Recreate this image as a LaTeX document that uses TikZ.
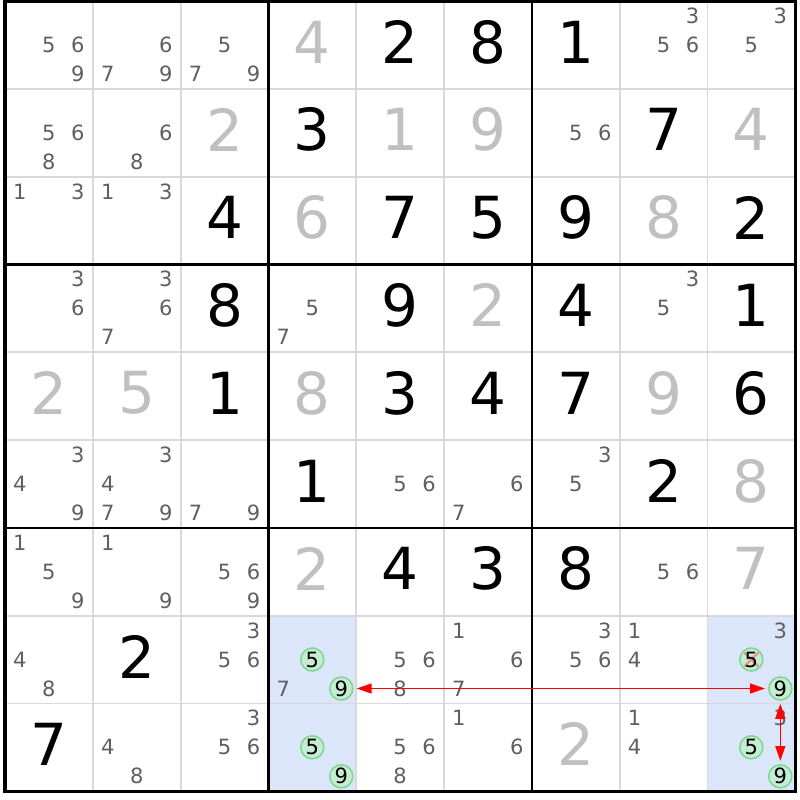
\documentclass[tikz,border=0pt]{standalone}
\usepackage{fontspec}
\setmainfont{DejaVu Sans}
\usetikzlibrary{arrows.meta}
\definecolor{candc}{HTML}{5F5F5F}
\definecolor{givc}{HTML}{C0C0C0}
\definecolor{thinc}{HTML}{D9D9D9}
\definecolor{hil}{HTML}{DCE6FB}
\definecolor{cirb}{HTML}{80D890}
\definecolor{cirf}{HTML}{C4EDD4}
\definecolor{xred}{HTML}{F08A8A}
\definecolor{arrc}{HTML}{FF0000}
\newcommand\cx[1]{(5+(#1-1)*87.8)}
\newcommand\cands[3]{%
  \foreach \cd in {#3}{%
    \pgfmathsetmacro\xx{5+(#2-1)*87.8+14.9+29*mod(\cd-1,3)}%
    \pgfmathsetmacro\yy{1+(#1-1)*87.8+14.9+29*floor((\cd-1)/3)}%
    \node[cand] (k#1#2\cd) at (\xx,\yy) {\cd};}}
\newcommand\bigdig[4]{%
  \pgfmathsetmacro\xx{5+(#2-1)*87.8+43.9}%
  \pgfmathsetmacro\yy{1+(#1-1)*87.8+43.9-3}%
  \node[bigd,text=#4] (b#1#2) at (\xx,\yy) {#3};}
\newcommand\circd[4]{%
  \pgfmathsetmacro\xx{5+(#2-1)*87.8+14.9+29*mod(#3-1,3)}%
  \pgfmathsetmacro\yy{1+(#1-1)*87.8+14.9+29*floor((#3-1)/3)}%
  \node[circ] (o#1#2#3) at (\xx,\yy) {};
  \ifnum#4=1
    \draw[xcross] ([shift={(-7,-7)}]o#1#2#3.center) -- ([shift={(7,7)}]o#1#2#3.center);
    \draw[xcross] ([shift={(-7,7)}]o#1#2#3.center) -- ([shift={(7,-7)}]o#1#2#3.center);
  \fi
  \node[cand,text=black] (t#1#2#3) at (\xx,\yy) {#3};}
\begin{document}
\begin{tikzpicture}[x=1pt,y=-1pt,
  cand/.style={inner sep=0pt,text=candc,font=\fontsize{21}{21}\selectfont},
  bigd/.style={inner sep=0pt,font=\fontsize{58}{58}\selectfont},
  circ/.style={circle,minimum size=23pt,inner sep=0pt,draw=cirb,fill=cirf,line width=1.6pt},
  xcross/.style={draw=xred,line width=2.2pt},
  thin/.style={draw=thinc,line width=1.8pt},
  thick/.style={draw=black,line width=2.6pt},
  arr/.style={draw=arrc,line width=1.4pt,{Triangle[length=15pt,width=10pt]}-{Triangle[length=15pt,width=10pt]},shorten <=3pt,shorten >=3pt}]
\useasboundingbox (0,0) rectangle (800,800);
\fill[white] (0,0) rectangle (800,800);
% highlighted cells
\foreach \r/\c in {8/4,9/4,8/9,9/9}{
  \fill[hil] ({5+(\c-1)*87.8},{1+(\r-1)*87.8}) rectangle ++(87.8,87.8);}
% thin lines
\foreach \i in {1,2,4,5,7,8}{
  \draw[thin] ({5+\i*87.8},1) -- ({5+\i*87.8},791.2);
  \draw[thin] (5,{1+\i*87.8}) -- (795.2,{1+\i*87.8});}
% thick lines
\foreach \i in {3,6}{
  \draw[thick] ({5+\i*87.8},1) -- ({5+\i*87.8},791.2);
  \draw[thick] (5,{1+\i*87.8}) -- (795.2,{1+\i*87.8});}
\draw[draw=black,line width=3.2pt] (5,1) rectangle (795.2,791.2);
% row 1
\cands{1}{1}{5,6,9}\cands{1}{2}{6,7,9}\cands{1}{3}{5,7,9}
\bigdig{1}{4}{4}{givc}\bigdig{1}{5}{2}{black}\bigdig{1}{6}{8}{black}\bigdig{1}{7}{1}{black}
\cands{1}{8}{3,5,6}\cands{1}{9}{3,5}
% row 2
\cands{2}{1}{5,6,8}\cands{2}{2}{6,8}\bigdig{2}{3}{2}{givc}\bigdig{2}{4}{3}{black}
\bigdig{2}{5}{1}{givc}\bigdig{2}{6}{9}{givc}\cands{2}{7}{5,6}\bigdig{2}{8}{7}{black}\bigdig{2}{9}{4}{givc}
% row 3
\cands{3}{1}{1,3}\cands{3}{2}{1,3}\bigdig{3}{3}{4}{black}\bigdig{3}{4}{6}{givc}
\bigdig{3}{5}{7}{black}\bigdig{3}{6}{5}{black}\bigdig{3}{7}{9}{black}\bigdig{3}{8}{8}{givc}\bigdig{3}{9}{2}{black}
% row 4
\cands{4}{1}{3,6}\cands{4}{2}{3,6,7}\bigdig{4}{3}{8}{black}\cands{4}{4}{5,7}
\bigdig{4}{5}{9}{black}\bigdig{4}{6}{2}{givc}\bigdig{4}{7}{4}{black}\cands{4}{8}{3,5}\bigdig{4}{9}{1}{black}
% row 5
\bigdig{5}{1}{2}{givc}\bigdig{5}{2}{5}{givc}\bigdig{5}{3}{1}{black}\bigdig{5}{4}{8}{givc}
\bigdig{5}{5}{3}{black}\bigdig{5}{6}{4}{black}\bigdig{5}{7}{7}{black}\bigdig{5}{8}{9}{givc}\bigdig{5}{9}{6}{black}
% row 6
\cands{6}{1}{3,4,9}\cands{6}{2}{3,4,7,9}\cands{6}{3}{7,9}\bigdig{6}{4}{1}{black}
\cands{6}{5}{5,6}\cands{6}{6}{6,7}\cands{6}{7}{3,5}\bigdig{6}{8}{2}{black}\bigdig{6}{9}{8}{givc}
% row 7
\cands{7}{1}{1,5,9}\cands{7}{2}{1,9}\cands{7}{3}{5,6,9}\bigdig{7}{4}{2}{givc}
\bigdig{7}{5}{4}{black}\bigdig{7}{6}{3}{black}\bigdig{7}{7}{8}{black}\cands{7}{8}{5,6}\bigdig{7}{9}{7}{givc}
% row 8
\cands{8}{1}{4,8}\bigdig{8}{2}{2}{black}\cands{8}{3}{3,5,6}\cands{8}{4}{7}
\circd{8}{4}{5}{0}\circd{8}{4}{9}{0}
\cands{8}{5}{5,6,8}\cands{8}{6}{1,6,7}\cands{8}{7}{3,5,6}\cands{8}{8}{1,4}\cands{8}{9}{3}
\circd{8}{9}{5}{1}\circd{8}{9}{9}{0}
% row 9
\bigdig{9}{1}{7}{black}\cands{9}{2}{4,8}\cands{9}{3}{3,5,6}
\circd{9}{4}{5}{0}\circd{9}{4}{9}{0}
\cands{9}{5}{5,6,8}\cands{9}{6}{1,6}\bigdig{9}{7}{2}{givc}\cands{9}{8}{1,4}\cands{9}{9}{3}
\circd{9}{9}{5}{0}\circd{9}{9}{9}{0}
% arrows
\draw[arr] (o849) -- (o899);
\draw[arr] (o899) -- (o999);
\end{tikzpicture}
\end{document}
